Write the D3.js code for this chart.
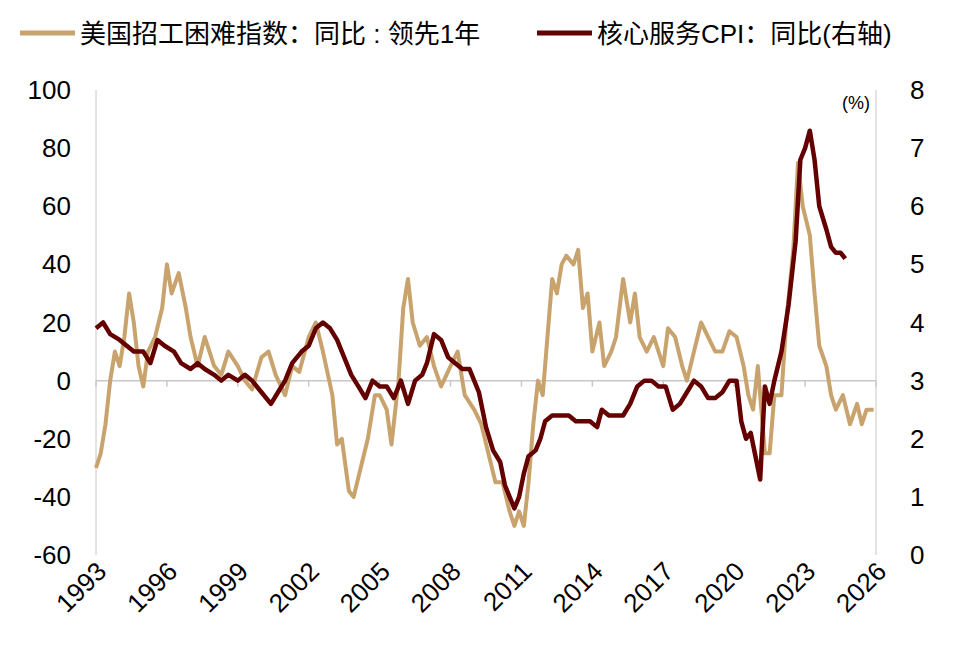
<!DOCTYPE html>
<html><head><meta charset="utf-8">
<script src="https://cdn.jsdelivr.net/npm/d3@7"></script>
<style>body{margin:0;background:#fff}text{font-family:"Liberation Sans","Noto Sans CJK SC",sans-serif}</style>
</head><body><svg id="c" width="959" height="650"></svg>
<script>
const hiringIdx = [[1993.0,-30],[1993.2,-25],[1993.4,-15],[1993.6,0],[1993.8,10],[1994.0,5],[1994.2,15],[1994.4,30],[1994.6,20],[1994.8,5],[1995.0,-2],[1995.2,10],[1995.5,15],[1995.8,25],[1996.0,40],[1996.2,30],[1996.5,37],[1996.8,25],[1997.0,15],[1997.3,5],[1997.6,15],[1998.0,5],[1998.3,2],[1998.6,10],[1999.0,5],[1999.3,0],[1999.6,-3],[2000.0,8],[2000.3,10],[2000.6,2],[2001.0,-5],[2001.3,5],[2001.6,3],[2002.0,15],[2002.3,20],[2002.6,10],[2003.0,-5],[2003.2,-22],[2003.4,-20],[2003.7,-38],[2003.9,-40],[2004.2,-30],[2004.5,-20],[2004.8,-5],[2005.0,-5],[2005.3,-10],[2005.5,-22],[2005.8,0],[2006.0,25],[2006.2,35],[2006.4,20],[2006.7,12],[2007.0,15],[2007.3,5],[2007.6,-2],[2008.0,5],[2008.3,10],[2008.6,-5],[2009.0,-10],[2009.3,-15],[2009.6,-25],[2009.9,-35],[2010.2,-35],[2010.5,-45],[2010.7,-50],[2010.9,-45],[2011.1,-50],[2011.3,-35],[2011.5,-15],[2011.7,0],[2011.9,-5],[2012.1,15],[2012.3,35],[2012.5,30],[2012.7,40],[2012.9,43],[2013.2,40],[2013.4,45],[2013.6,25],[2013.8,30],[2014.0,10],[2014.3,20],[2014.5,5],[2014.8,10],[2015.0,15],[2015.3,35],[2015.6,20],[2015.8,30],[2016.0,15],[2016.3,10],[2016.6,15],[2017.0,5],[2017.2,18],[2017.5,15],[2017.8,5],[2018.0,0],[2018.3,10],[2018.6,20],[2018.9,15],[2019.2,10],[2019.5,10],[2019.8,17],[2020.1,15],[2020.4,5],[2020.6,-5],[2020.8,-10],[2021.0,5],[2021.3,-25],[2021.5,-25],[2021.7,-5],[2022.0,-5],[2022.2,20],[2022.5,45],[2022.7,75],[2022.9,60],[2023.2,50],[2023.4,30],[2023.6,12],[2023.9,5],[2024.1,-5],[2024.3,-10],[2024.6,-5],[2024.9,-15],[2025.2,-8],[2025.4,-15],[2025.6,-10],[2025.9,-10]];
const coreServCpi = [[1993.0,3.9],[1993.3,4.0],[1993.6,3.8],[1994.0,3.7],[1994.3,3.6],[1994.6,3.5],[1995.0,3.5],[1995.3,3.3],[1995.6,3.7],[1995.9,3.6],[1996.3,3.5],[1996.6,3.3],[1997.0,3.2],[1997.3,3.3],[1997.6,3.2],[1998.0,3.1],[1998.3,3.0],[1998.6,3.1],[1999.0,3.0],[1999.3,3.1],[1999.6,3.0],[2000.0,2.8],[2000.4,2.6],[2000.7,2.8],[2001.0,3.0],[2001.3,3.3],[2001.7,3.5],[2002.0,3.6],[2002.3,3.9],[2002.6,4.0],[2002.9,3.9],[2003.2,3.7],[2003.5,3.4],[2003.8,3.1],[2004.1,2.9],[2004.4,2.7],[2004.7,3.0],[2005.0,2.9],[2005.3,2.9],[2005.6,2.7],[2005.9,3.0],[2006.2,2.6],[2006.5,3.0],[2006.8,3.1],[2007.0,3.3],[2007.3,3.8],[2007.6,3.7],[2007.9,3.4],[2008.2,3.3],[2008.5,3.2],[2008.8,3.2],[2009.0,3.0],[2009.2,2.8],[2009.5,2.2],[2009.8,1.8],[2010.1,1.6],[2010.3,1.2],[2010.5,1.0],[2010.7,0.8],[2010.9,1.0],[2011.1,1.4],[2011.3,1.7],[2011.6,1.8],[2011.8,2.0],[2012.0,2.3],[2012.3,2.4],[2012.6,2.4],[2013.0,2.4],[2013.3,2.3],[2013.6,2.3],[2013.9,2.3],[2014.2,2.2],[2014.4,2.5],[2014.7,2.4],[2015.0,2.4],[2015.3,2.4],[2015.6,2.6],[2015.9,2.9],[2016.2,3.0],[2016.5,3.0],[2016.8,2.9],[2017.1,2.9],[2017.4,2.5],[2017.7,2.6],[2018.0,2.8],[2018.3,3.0],[2018.6,2.9],[2018.9,2.7],[2019.2,2.7],[2019.5,2.8],[2019.8,3.0],[2020.1,3.0],[2020.3,2.3],[2020.5,2.0],[2020.7,2.1],[2020.9,1.7],[2021.1,1.3],[2021.3,2.9],[2021.5,2.6],[2021.7,3.0],[2022.0,3.5],[2022.3,4.3],[2022.6,5.4],[2022.8,6.8],[2023.0,7.0],[2023.2,7.3],[2023.4,6.8],[2023.6,6.0],[2023.9,5.6],[2024.1,5.3],[2024.3,5.2],[2024.5,5.2],[2024.7,5.1]];
const xTicks = [1993,1996,1999,2002,2005,2008,2011,2014,2017,2020,2023,2026];
const leftTicks = [-60,-40,-20,0,20,40,60,80,100];
const rightTicks = [0,1,2,3,4,5,6,7,8];

const svg = d3.select("#c");
const m = {left: 96, right: 876, top: 90, bottom: 555};
const x = d3.scaleLinear().domain([1993, 2026]).range([m.left, m.right]);
const yL = d3.scaleLinear().domain([-60, 100]).range([m.bottom, m.top]);
const yR = d3.scaleLinear().domain([0, 8]).range([m.bottom, m.top]);
const grey = "#c8c8c8";

// axes lines
svg.append("line").attr("x1", m.left).attr("x2", m.left).attr("y1", m.top).attr("y2", m.bottom).attr("stroke", grey);
svg.append("line").attr("x1", m.right).attr("x2", m.right).attr("y1", m.top).attr("y2", m.bottom).attr("stroke", grey);
svg.append("line").attr("x1", m.left).attr("x2", m.right).attr("y1", yL(0)).attr("y2", yL(0)).attr("stroke", grey).attr("stroke-width", 1.5);
svg.selectAll(".xt").data(xTicks).join("line")
  .attr("x1", d => x(d)).attr("x2", d => x(d)).attr("y1", yL(0)).attr("y2", yL(0) + 6).attr("stroke", grey).attr("stroke-width", 1.5);

svg.selectAll(".ll").data(leftTicks).join("text")
  .attr("x", 71).attr("y", d => yL(d) + 9).attr("text-anchor", "end").style("font-size", "26px").text(d => d);
svg.selectAll(".rl").data(rightTicks).join("text")
  .attr("x", 910).attr("y", d => yR(d) + 9).attr("text-anchor", "start").style("font-size", "26px").text(d => d);
svg.append("text").attr("x", 870).attr("y", 109).attr("text-anchor", "end").style("font-size", "18px").text("(%)");
svg.selectAll(".xl").data(xTicks).join("text")
  .attr("transform", d => `translate(${x(d) + 12},${m.bottom + 18}) rotate(-45)`)
  .attr("text-anchor", "end").style("font-size", "26px").text(d => d);

const lineL = d3.line().x(d => x(d[0])).y(d => yL(d[1]));
const lineR = d3.line().x(d => x(d[0])).y(d => yR(d[1]));
svg.append("path").attr("d", lineL(hiringIdx)).attr("fill", "none").attr("stroke", "#c8a36e").attr("stroke-width", 4).attr("stroke-linejoin", "round");
svg.append("path").attr("d", lineR(coreServCpi)).attr("fill", "none").attr("stroke", "#650000").attr("stroke-width", 4.5).attr("stroke-linejoin", "round");

// legend
const lg = [{t: "美国招工困难指数：同比 : 领先1年", c: "#c8a36e", x: 20}, {t: "核心服务CPI：同比(右轴)", c: "#650000", x: 537}];
lg.forEach(d => {
  svg.append("line").attr("x1", d.x).attr("x2", d.x + 55).attr("y1", 33).attr("y2", 33).attr("stroke", d.c).attr("stroke-width", 5);
  svg.append("text").attr("x", d.x + 60).attr("y", 43).style("font-size", "26px").text(d.t);
});
</script></body></html>
